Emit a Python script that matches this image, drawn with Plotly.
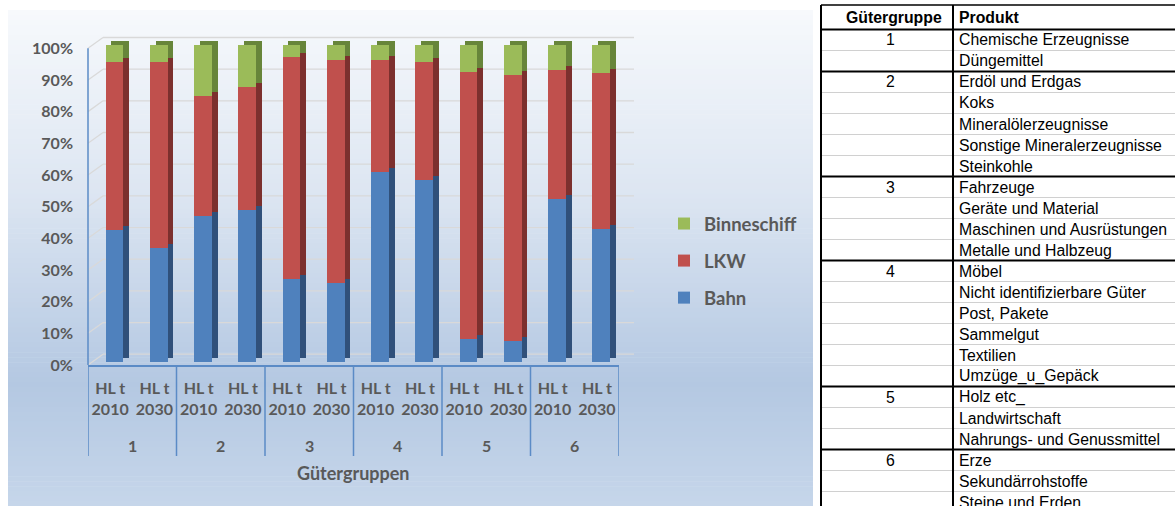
import numpy as np
import plotly.graph_objects as go

# ---------------- data ----------------
group_labels = ["1", "1", "2", "2", "3", "3", "4", "4", "5", "5", "6", "6"]
year_labels = ["HL t<br>2010", "HL t<br>2030"] * 6
series_names = ["Bahn", "LKW", "Binneschiff"]
legend_ranks = [3, 2, 1]
bahn = [41.5, 36.0, 46.1, 47.7, 26.1, 24.8, 60.0, 57.3, 7.2, 6.6, 51.4, 41.8]
lkw = [53.2, 58.7, 37.9, 39.0, 70.1, 70.3, 35.3, 37.3, 84.1, 84.0, 40.6, 49.4]
binneschiff = [5.3, 5.3, 16.0, 13.3, 3.8, 4.9, 4.7, 5.4, 8.7, 9.4, 8.0, 8.8]
y_ticks = [0, 10, 20, 30, 40, 50, 60, 70, 80, 90, 100]
x_title = "Gütergruppen"

table_header = ["Gütergruppe", "Produkt"]
table_groups = ["1", "2", "3", "4", "5", "6"]
table_products = [
    ["Chemische Erzeugnisse", "Düngemittel"],
    ["Erdöl und Erdgas", "Koks", "Mineralölerzeugnisse",
     "Sonstige Mineralerzeugnisse", "Steinkohle"],
    ["Fahrzeuge", "Geräte und Material", "Maschinen und Ausrüstungen",
     "Metalle und Halbzeug"],
    ["Möbel", "Nicht identifizierbare Güter", "Post, Pakete", "Sammelgut",
     "Textilien", "Umzüge_u_Gepäck"],
    ["Holz etc_", "Landwirtschaft", "Nahrungs- und Genussmittel"],
    ["Erze", "Sekundärrohstoffe", "Steine und Erden"],
]

# ---------------- geometry helpers ----------------
W, H = 1175, 506


def px(x):
    return x / W


def py(y):
    return 1 - y / H


X0, X1 = 88, 619          # x-axis pixel extent
Y0 = 365                  # pixel of 0 %
SCALE = 3.167             # pixel per %
YMAX = 105
ncat = len(year_labels)
cat_px = (X1 - X0) / ncat
FRONT_DY = 3 / SCALE      # front faces sit slightly behind axis
SIDE_DX = 5.7 / cat_px    # bar depth (categories)
SIDE_DY = 4 / SCALE       # bar depth (%)
WALL_DX = 15              # px
WALL_DY = 10.8 / SCALE    # %
BAR_W = 0.4
BAR_OFF = -0.2 + 4.4 / cat_px

GRAY = "#595959"
FONT = "Lato"
front_colors = ["#4f81bd", "#c0504d", "#9bbb59"]
side_colors = ["#30507a", "#7c302e", "#67853a"]

xpos = np.arange(ncat)
values = [np.array(bahn), np.array(lkw), np.array(binneschiff)]
bases = np.vstack([np.zeros(ncat), np.cumsum(values, axis=0)[:-1]])

fig = go.Figure()

# depth (side/top faces) drawn first
for i, name in enumerate(series_names):
    fig.add_trace(go.Bar(
        x=xpos, y=values[i], base=bases[i] + FRONT_DY + SIDE_DY,
        width=BAR_W, offset=BAR_OFF + SIDE_DX,
        marker=dict(color=side_colors[i], line=dict(width=0)),
        showlegend=False, hoverinfo="skip"))
# front faces
for i, name in enumerate(series_names):
    fig.add_trace(go.Bar(
        x=xpos, y=values[i], base=bases[i] + FRONT_DY,
        width=BAR_W, offset=BAR_OFF, name=name, legendgroup=name,
        legendrank=legend_ranks[i],
        marker=dict(color=front_colors[i], line=dict(width=0)),
        hovertemplate=name + ": %{y:.1f}%<extra></extra>"))

shapes = []
# gradient background panel
stops = [(10, (247, 249, 252)), (190, (221, 230, 242)),
         (383, (180, 200, 226)), (506, (198, 214, 234))]
nstrip = 100
for k in range(nstrip):
    ya = 10 + (506 - 10) * k / nstrip
    yb = 10 + (506 - 10) * (k + 1) / nstrip
    ym = (ya + yb) / 2
    for (s0, c0), (s1, c1) in zip(stops[:-1], stops[1:]):
        if s0 <= ym <= s1:
            t = (ym - s0) / (s1 - s0)
            c = tuple(int(round(c0[j] + (c1[j] - c0[j]) * t)) for j in range(3))
            break
    shapes.append(dict(type="rect", xref="paper", yref="paper", layer="below",
                       x0=px(8), x1=px(813), y0=py(yb + 0.6), y1=py(ya),
                       fillcolor="rgb(%d,%d,%d)" % c, line=dict(width=0)))

# back-wall gridlines and left-wall diagonals
for v in y_ticks:
    shapes.append(dict(type="line", xref="paper", yref="y", layer="below",
                       x0=px(X0 + WALL_DX), x1=px(X1 + WALL_DX),
                       y0=v + WALL_DY, y1=v + WALL_DY,
                       line=dict(color="#d9d9d9", width=1.3)))
    shapes.append(dict(type="line", xref="paper", yref="y", layer="below",
                       x0=px(X0), x1=px(X0 + WALL_DX),
                       y0=v, y1=v + WALL_DY,
                       line=dict(color="#d9d9d9", width=1.3)))
# left wall front edge
shapes.append(dict(type="line", xref="paper", yref="y",
                   x0=px(X0), x1=px(X0), y0=0, y1=y_ticks[-1],
                   line=dict(color="#5b8bc6", width=1.5)))

# group dividers
bounds = [-0.5] + [i + 0.5 for i in range(ncat - 1)
                   if group_labels[i] != group_labels[i + 1]] + [ncat - 0.5]
for b in bounds:
    shapes.append(dict(type="line", xref="x", yref="paper",
                       x0=b, x1=b, y0=py(Y0), y1=py(456),
                       line=dict(color="#5b8bc6", width=1.5)))

annotations = []
for g in dict.fromkeys(group_labels):
    idx = [i for i, gg in enumerate(group_labels) if gg == g]
    annotations.append(dict(x=float(np.mean(xpos[idx])), y=py(445),
                            xref="x", yref="paper", text=g, showarrow=False,
                            font=dict(family=FONT, size=16, color=GRAY, weight="bold"),
                            xanchor="center", yanchor="middle"))
annotations.append(dict(x=px((X0 + X1) / 2), y=py(473), xref="paper", yref="paper",
                        text=x_title, showarrow=False,
                        font=dict(family=FONT, size=18, color=GRAY, weight="bold"),
                        xanchor="center", yanchor="middle"))

# ---------------- table ----------------
TL, TC, TR = 821, 953, 1176
TTOP, THEAD = 5, 29.5
ROW = 21
TFONT = "Liberation Sans"
TSIZE = 15.8

rows = []
for g, prods in zip(table_groups, table_products):
    for j, p in enumerate(prods):
        rows.append((g if j == 0 else "", p, j == 0))

for i, (g, p, first) in enumerate(rows):
    ytop = THEAD + ROW * i
    if i > 0 and not first:
        shapes.append(dict(type="line", xref="paper", yref="paper",
                           x0=px(TL), x1=px(TR), y0=py(ytop), y1=py(ytop),
                           line=dict(color="#d0d0d0", width=1)))
for i, (g, p, first) in enumerate(rows):
    ytop = THEAD + ROW * i
    if first:
        shapes.append(dict(type="line", xref="paper", yref="paper",
                           x0=px(TL), x1=px(TR), y0=py(ytop), y1=py(ytop),
                           line=dict(color="black", width=2)))
    yc = ytop + ROW / 2
    if g:
        annotations.append(dict(x=px(890), y=py(yc), xref="paper", yref="paper",
                                text=g, showarrow=False, xanchor="center",
                                yanchor="middle",
                                font=dict(family=TFONT, size=TSIZE, color="black")))
    annotations.append(dict(x=px(TC + 4), y=py(yc), xref="paper", yref="paper",
                            text=p, showarrow=False, xanchor="left",
                            yanchor="middle",
                            font=dict(family=TFONT, size=TSIZE, color="black")))
shapes.append(dict(type="line", xref="paper", yref="paper",
                   x0=px(TL), x1=px(TR), y0=py(TTOP), y1=py(TTOP),
                   line=dict(color="black", width=1.5)))
for xv in (TL, TC):
    shapes.append(dict(type="line", xref="paper", yref="paper",
                       x0=px(xv), x1=px(xv), y0=py(TTOP), y1=py(507),
                       line=dict(color="black", width=2)))
hy = (TTOP + THEAD) / 2
annotations.append(dict(x=px(TC - 9), y=py(hy), xref="paper", yref="paper",
                        text=table_header[0], showarrow=False, xanchor="right",
                        yanchor="middle",
                        font=dict(family=TFONT, size=TSIZE, color="black", weight="bold")))
annotations.append(dict(x=px(TC + 4), y=py(hy), xref="paper", yref="paper",
                        text=table_header[1], showarrow=False, xanchor="left",
                        yanchor="middle",
                        font=dict(family=TFONT, size=TSIZE, color="black", weight="bold")))

fig.update_layout(
    width=W, height=H,
    margin=dict(l=0, r=0, t=0, b=0),
    paper_bgcolor="white",
    plot_bgcolor="rgba(0,0,0,0)",
    barmode="overlay",
    bargap=0,
    showlegend=True,
    legend=dict(x=px(664), y=py(205), xanchor="left", yanchor="top",
                traceorder="grouped", tracegroupgap=10,
                bgcolor="rgba(0,0,0,0)",
                font=dict(family=FONT, size=18.5, color=GRAY, weight="bold")),
    xaxis=dict(domain=[px(X0), px(X1)], range=[-0.5, ncat - 0.5],
               tickmode="array", tickvals=xpos, ticktext=year_labels,
               showgrid=False, zeroline=False, showline=True,
               linecolor="#5b8bc6", linewidth=1.5, ticks="",
               ticklabelstandoff=8, automargin=False,
               tickfont=dict(family=FONT, size=16, color=GRAY, weight="bold")),
    yaxis=dict(domain=[py(Y0), py(Y0 - YMAX * SCALE)], range=[0, YMAX],
               tickmode="array", tickvals=y_ticks,
               ticktext=["%d%%" % v for v in y_ticks],
               showgrid=False, zeroline=False, showline=False, ticks="",
               ticklabelstandoff=14, automargin=False,
               tickfont=dict(family=FONT, size=16, color=GRAY, weight="bold")),
    shapes=shapes,
    annotations=annotations,
)

fig.write_html("out.html",
               config={"displayModeBar": False},
               post_script="document.body.style.margin='0';"
                           "document.body.style.overflow='hidden';")
